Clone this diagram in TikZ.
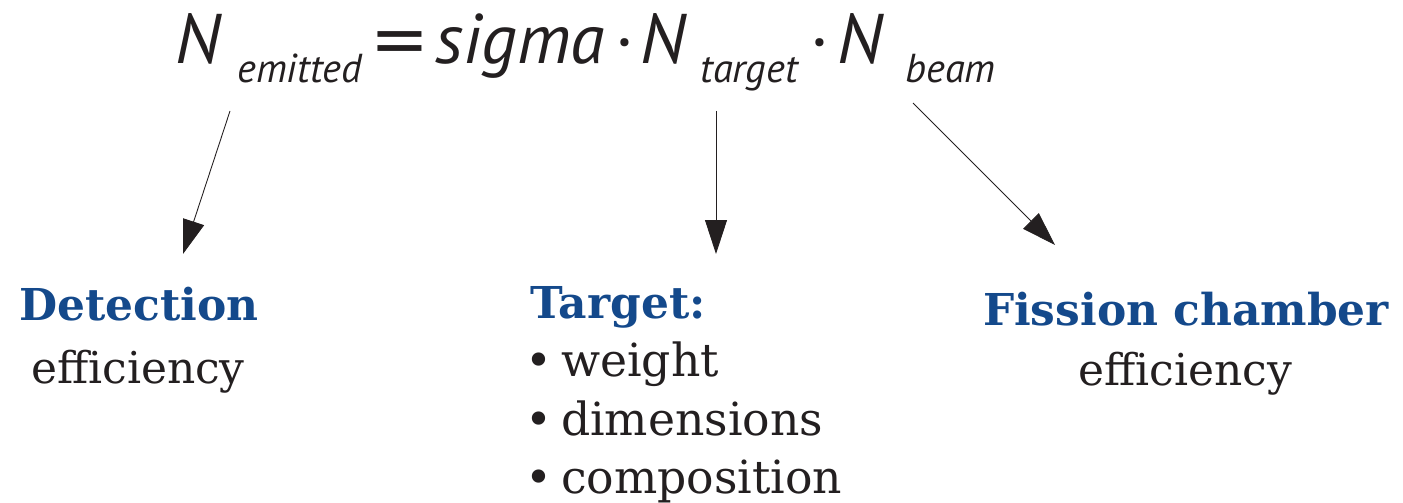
\documentclass[tikz,border=0pt]{standalone}
\usepackage{fontspec}
\setmainfont{DejaVu Serif}
\newfontfamily\formfont{PT Sans}
\newfontfamily\symfont{DejaVu Sans}
\usetikzlibrary{arrows.meta}

\definecolor{headblue}{RGB}{20,73,139}
\definecolor{textdark}{RGB}{35,31,32}

\tikzset{
  bigsym/.style  = {font=\formfont\itshape\fontsize{40}{42}\selectfont, text=textdark, inner sep=0pt, anchor=base west},
  subsym/.style  = {font=\formfont\itshape\fontsize{23}{25}\selectfont, text=textdark, inner sep=0pt, anchor=base west},
  opsym/.style   = {font=\symfont\fontsize{40}{42}\selectfont, text=textdark, inner sep=0pt, anchor=base west},
  headtext/.style = {font=\bfseries\fontsize{25}{30}\selectfont, text=headblue, inner sep=0pt, anchor=base},
  bodytext/.style = {font=\fontsize{25}{30}\selectfont, text=textdark, inner sep=0pt, anchor=base},
  listtext/.style = {font=\fontsize{26}{30}\selectfont, text=textdark, inner sep=0pt, anchor=base west},
  pointer/.style = {line width=0.5pt, draw=textdark, -{Triangle[length=6.8mm,width=4.4mm]}}
}

\begin{document}
\begin{tikzpicture}[x=0.02cm, y=-0.02cm]
        \useasboundingbox (0,0) rectangle (1403,503);

        % formula
        \node[bigsym] (n1)      at (175,64) {N};
        \node[subsym] (emitted) at (237,83) {emitted};
        \node[opsym]  (eq)      at (370,64) {=};
        \node[bigsym] (sigma)   at (435,64) {sigma};
        \node[bigsym] (dot1)    at (615,64) {\upshape ·};
        \node[bigsym] (n2)      at (640,64) {N};
        \node[subsym] (target)  at (700,83) {target};
        \node[bigsym] (dot2)    at (810,64) {\upshape ·};
        \node[bigsym] (n3)      at (837,64) {N};
        \node[subsym] (beam)    at (905,83) {beam};

        % detection
        \node[headtext] (dethead) at (139,320) {Detection};
        \node[bodytext] (deteff)  at (138,383) {efficiency};

        % target
        \node[headtext, anchor=base west] (tarhead) at (530,318) {Target:};
        \node[listtext] (tarw) at (525,376) {•\hspace{5pt}weight};
        \node[listtext] (tard) at (525,435) {•\hspace{5pt}dimensions};
        \node[listtext] (tarc) at (525,493) {•\hspace{5pt}composition};

        % fission chamber
        \node[headtext] (fishead) at (1186,325) {Fission chamber};
        \node[bodytext] (fiseff)  at (1185,385) {efficiency};

        % pointers
        \coordinate (s1) at (230,111);
        \coordinate (t1) at (183,254);
        \coordinate (s2) at (716,111);
        \coordinate (t2) at (716,254);
        \coordinate (s3) at (913,103);
        \coordinate (t3) at (1055,245);

        \draw[pointer] (s1) -- (t1);
        \draw[pointer] (s2) -- (t2);
        \draw[pointer] (s3) -- (t3);
    \end{tikzpicture}
\end{document}
